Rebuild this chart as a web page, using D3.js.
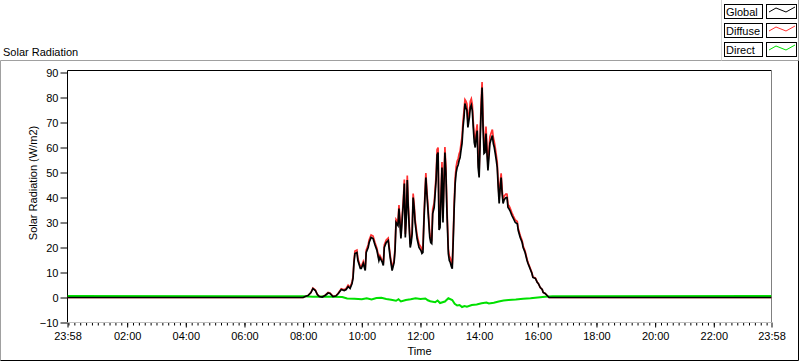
<!DOCTYPE html>
<html>
<head>
<meta charset="utf-8">
<script src="https://cdn.jsdelivr.net/npm/d3@7"></script>
<style>
  html, body { margin: 0; padding: 0; background: #fff; }
  svg { display: block; font-family: "Liberation Sans", Arial, sans-serif; }
  .line { fill: none; stroke-width: 1.7; stroke-linejoin: miter; }
  .tick text { font-size: 11px; fill: #000; }
  .tick line { stroke: #000; }
</style>
</head>
<body>
<svg id="chart" width="800" height="361"></svg>
<script>
// === DATA ===
// time of day for Global / Diffuse (1st entry is the day before)
const times = ["23:58","08:00","08:04","08:10","08:16","08:20","08:25","08:29","08:33","08:39","08:45","08:51","08:55",
  "09:01","09:07","09:12","09:18","09:24","09:28","09:32","09:36","09:40","09:42","09:44","09:46","09:50","09:52","09:57","09:59",
  "10:03","10:07","10:09","10:13","10:15","10:19","10:23","10:27","10:31","10:35","10:37","10:42","10:44","10:46","10:50","10:54","10:58",
  "11:02","11:06","11:08","11:10","11:14","11:16","11:20","11:25","11:27","11:29","11:31","11:33","11:35","11:37","11:39","11:41","11:43",
  "11:45","11:47","11:49","11:51","11:53","11:57","12:01","12:03","12:05","12:07","12:09","12:11","12:13","12:15","12:17","12:19","12:21",
  "12:23","12:25","12:28","12:32","12:34","12:36","12:38","12:40","12:42","12:44","12:46","12:48","12:50","12:52","12:54","12:57","12:59",
  "13:01","13:03","13:05","13:07","13:09","13:11","13:13","13:15","13:17","13:19","13:21","13:23","13:25","13:27","13:29","13:31","13:33",
  "13:35","13:37","13:40","13:42","13:44","13:46","13:48","13:50","13:52","13:54","13:56","13:58","14:00","14:02","14:04","14:06","14:08",
  "14:10","14:12","14:14","14:16","14:18","14:20","14:22","14:24","14:27","14:29","14:31","14:33","14:35","14:37","14:39","14:41","14:43",
  "14:45","14:47","14:49","14:51","14:53","14:55","14:57","14:59","15:01","15:03","15:07","15:10","15:14","15:18","15:20","15:24","15:28",
  "15:30","15:34","15:38","15:40","15:44","15:48","15:50","15:55","15:59","16:01","16:05","16:09","16:11","16:15","16:19","16:23","23:58"];

const globalVals = [0,0,0.4,0.8,2.0,3.6,2.8,1.2,0.4,0.2,0.8,1.8,1.6,
  0.4,0.6,1.6,3.2,2.8,3.2,4.4,3.6,5.6,7.6,14,17.6,18,14.8,11.6,11.6,
  13.6,10.8,18,20,22,24,23.6,21,18.8,14.8,16,14,12.8,20,22,22.8,16,
  10.8,14,18.8,30,28.8,35.6,23.6,38,45.6,24,32,47,36,28,20,22,25.6,
  40,36,30,26.8,23.6,20,18.8,17.6,18,30,39.6,48,41.6,36,30,24,22,
  21.6,33.6,36,47,57,58,27,28,40,52,30,45,58,50,35,17.6,14.8,
  14,12.5,11.5,22.8,36,45.6,50,52,53,54.8,56,59,61.6,68,72,77.6,76,
  74.8,68,72,76,77,74.8,68,62,60,64,66.8,52,48,62,74.8,84,68,
  57.6,58,65.6,57.6,50.8,56,61.6,63,64.8,61.6,60,57.6,55,52,44,37.6,44,
  48,41.6,37.6,39,39.6,40,40,36,35.5,34.8,32.8,31.6,30,29.5,26.8,24,22,
  20,18,14.8,13.6,11.6,9.6,8,7.6,6,5.6,4,3.2,2,1.6,0.8,0,0];

const diffuseVals = [0,0,0.4,0.8,2.0,3.8,3.0,1.3,0.5,0.3,0.9,2.0,1.8,
  0.5,0.7,1.8,3.5,3.1,3.6,4.9,4.1,6.2,8.3,14.8,18.6,19.0,15.6,12.3,12.4,
  14.4,11.5,18.9,21.0,23.0,25.0,24.6,21.9,19.6,15.5,16.8,14.8,13.6,21.0,23.0,23.8,17.0,
  11.7,15.0,19.9,31.2,30.0,37.0,25.0,39.5,47.2,25.4,33.5,48.8,37.5,29.4,21.3,23.3,27.0,
  41.6,37.5,31.4,28.2,25.0,21.4,20.2,19.0,19.4,31.5,41.2,49.8,43.2,37.6,31.5,25.5,23.5,
  23.1,35.4,37.8,49.0,59.2,60.0,29.0,30.0,42.0,54.2,32.0,47.0,60.2,52.0,37.0,19.4,16.6,
  15.8,14.2,13.2,24.8,38.2,48.0,52.4,54.5,55.5,57.4,58.6,61.6,64.2,70.6,74.6,79.2,78.6,
  77.4,70.5,74.5,78.5,79.5,77.3,70.4,64.4,62.4,66.5,69.3,54.5,50.6,64.8,77.8,86.2,71.0,
  60.4,60.8,68.4,60.3,53.4,58.6,64.2,65.5,67.2,64.0,62.2,59.8,57.1,54.0,45.9,39.4,45.8,
  49.7,43.2,39.1,40.5,41.0,41.4,41.3,37.2,36.7,36.0,33.9,32.6,31.0,30.4,27.6,24.8,22.7,
  20.6,18.6,15.3,14.0,12.0,9.9,8.2,7.8,6.1,5.6,4.0,3.2,2.0,1.6,0.8,0,0];

// Direct, own time base
const directTimes = ["23:58","08:00","08:20","08:40","09:00","09:20","09:30","09:45","10:00","10:10","10:20","10:30","10:40",
  "10:50","11:00","11:10","11:15","11:20","11:30","11:40","11:50","12:00","12:10","12:15","12:20","12:30","12:35","12:40",
  "12:50","12:57","13:05","13:10","13:15","13:20","13:25","13:30","13:35","13:45","13:55","14:05","14:15","14:20","14:30",
  "14:40","14:50","15:00","15:15","15:30","15:45","16:00","16:15","16:30","23:58"];
const directVals = [0.6,0.5,0.3,0.4,0.3,0.2,-0.4,-0.5,-0.7,-0.3,-0.8,-0.2,-0.1,
  -0.6,-0.9,-1.3,-0.7,-1.6,-1.0,-0.7,-0.3,-0.6,-0.4,-1.1,-1.5,-1.9,-1.2,-2.2,
  -1.6,-0.3,-1.0,-2.5,-3.2,-3.0,-3.8,-3.4,-3.7,-3.0,-2.8,-2.3,-2.0,-2.4,-2.1,
  -1.6,-1.2,-1.0,-0.8,-0.5,-0.3,0.0,0.3,0.5,0.6];

const xTickLabels = ["23:58","02:00","04:00","06:00","08:00","10:00","12:00","14:00","16:00","18:00","20:00","22:00","23:58"];
const yTicks = [-10,0,10,20,30,40,50,60,70,80,90];

const seriesNames = ["Global", "Diffuse", "Direct"];
const seriesColors = ["#000000", "#ff3030", "#00e000"];

// "HH:MM" -> minutes, adding a day each time the clock wraps
function toMinutes(list) {
    let day = 0, prev = -1;
    return list.map(s => {
        const [h, m] = s.split(":").map(Number);
        let v = h * 60 + m;
        if (v < prev) day++;
        prev = v;
        return v + day * 1440;
    });
}

// === LAYOUT ===
const plot = { left: 67.5, right: 771.5, top: 72.5, bottom: 322.5 };
const svg = d3.select("#chart");

const xTickVals = toMinutes(xTickLabels);
const x = d3.scaleLinear()
    .domain([xTickVals[0], xTickVals[xTickVals.length - 1]])
    .range([plot.left, plot.right]);
const y = d3.scaleLinear()
    .domain([-10, 90])
    .range([plot.bottom, plot.top]);

// outer frame + legend panel
svg.append("line").attr("x1", 0.5).attr("x2", 798.5).attr("y1", 60.5).attr("y2", 60.5).attr("stroke", "#a0a0a0");
svg.append("line").attr("x1", 0.5).attr("x2", 0.5).attr("y1", 60.5).attr("y2", 360.5).attr("stroke", "#a0a0a0");
svg.append("line").attr("x1", 0.5).attr("x2", 798.5).attr("y1", 360.5).attr("y2", 360.5).attr("stroke", "#000");
svg.append("line").attr("x1", 798.5).attr("x2", 798.5).attr("y1", 60.5).attr("y2", 360.5).attr("stroke", "#000");
svg.append("line").attr("x1", 798.5).attr("x2", 798.5).attr("y1", 0).attr("y2", 60.5).attr("stroke", "#a0a0a0");
svg.append("line").attr("x1", 721.5).attr("x2", 721.5).attr("y1", 0).attr("y2", 60.5).attr("stroke", "#d4d4d4");

// title
svg.append("text")
    .attr("x", 3).attr("y", 56)
    .style("font-size", "11px")
    .text("Solar Radiation");

// plot background
svg.append("rect")
    .attr("x", plot.left).attr("y", 70.5)
    .attr("width", plot.right - plot.left).attr("height", plot.bottom - 70.5)
    .attr("fill", "#fff");

// === AXES ===
const yAxis = svg.append("g")
    .attr("transform", `translate(${plot.left},0)`)
    .call(d3.axisLeft(y).tickValues(yTicks).tickSize(7).tickPadding(2));
yAxis.select(".domain").remove();

const minorTicks = d3.range(1440, xTickVals[xTickVals.length - 1], 12);
const xMinor = svg.append("g")
    .attr("transform", `translate(0,${plot.bottom})`)
    .call(d3.axisBottom(x).tickValues(minorTicks).tickSize(3).tickFormat(""));
xMinor.select(".domain").remove();

const xAxis = svg.append("g")
    .attr("transform", `translate(0,${plot.bottom})`)
    .call(d3.axisBottom(x).tickValues(xTickVals).tickSize(5).tickPadding(5)
        .tickFormat((d, i) => xTickLabels[i]));
xAxis.select(".domain").remove();

// plot borders
svg.append("line").attr("x1", plot.left).attr("x2", plot.right).attr("y1", 70.5).attr("y2", 70.5).attr("stroke", "#000");
svg.append("line").attr("x1", plot.left).attr("x2", plot.left).attr("y1", 70.5).attr("y2", plot.bottom).attr("stroke", "#000");
svg.append("line").attr("x1", plot.right).attr("x2", plot.right).attr("y1", 70.5).attr("y2", plot.bottom).attr("stroke", "#808080");
svg.append("line").attr("x1", plot.left).attr("x2", plot.right).attr("y1", plot.bottom).attr("y2", plot.bottom).attr("stroke", "#c0c0c0");

// axis titles
svg.append("text")
    .attr("transform", "translate(37,183) rotate(-90)")
    .attr("text-anchor", "middle")
    .style("font-size", "11px")
    .text("Solar Radiation (W/m2)");
svg.append("text")
    .attr("x", (plot.left + plot.right) / 2).attr("y", 355)
    .attr("text-anchor", "middle")
    .style("font-size", "11px")
    .text("Time");

// === LINES ===
const line = d3.line()
    .x(d => x(d[0]))
    .y(d => y(d[1]));

const tMain = toMinutes(times);
const tDirect = toMinutes(directTimes);

svg.append("clipPath").attr("id", "clip")
    .append("rect")
    .attr("x", plot.left).attr("y", 71)
    .attr("width", plot.right - plot.left).attr("height", plot.bottom - 71);

const lines = svg.append("g").attr("clip-path", "url(#clip)");

lines.append("path")
    .attr("class", "line")
    .attr("stroke", seriesColors[1])
    .attr("d", line(d3.zip(tMain, diffuseVals)));
lines.append("path")
    .attr("class", "line")
    .attr("stroke", seriesColors[2])
    .style("stroke-width", 2)
    .attr("d", line(d3.zip(tDirect, directVals)));
lines.append("path")
    .attr("class", "line")
    .attr("stroke", seriesColors[0])
    .attr("d", line(d3.zip(tMain, globalVals)));

// === LEGEND ===
const legend = svg.append("g");
seriesNames.forEach((name, i) => {
    const top = 4.5 + i * 19;
    legend.append("rect")
        .attr("x", 724.5).attr("y", top).attr("width", 38).attr("height", 14)
        .attr("fill", "#fff").attr("stroke", "#000");
    legend.append("text")
        .attr("x", 726).attr("y", top + 11.5)
        .style("font-size", "11px")
        .text(name);
    legend.append("rect")
        .attr("x", 766.5).attr("y", top).attr("width", 30).attr("height", 14)
        .attr("fill", "#fff").attr("stroke", "#000");
    legend.append("path")
        .attr("fill", "none")
        .attr("stroke", seriesColors[i])
        .attr("d", `M769,${top + 7.5}L776,${top + 3.5}L786,${top + 7.5}L795,${top + 2.5}`);
});
</script>
</body>
</html>
